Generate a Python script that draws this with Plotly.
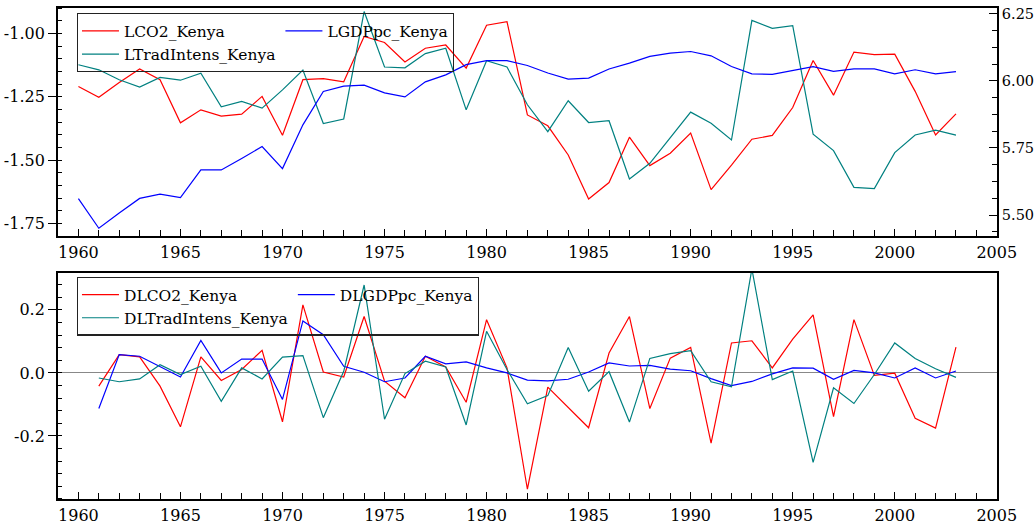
import plotly.graph_objects as go

years = list(range(1960, 2004))
dyears = list(range(1961, 2004))

LCO2 = [-1.210, -1.252, -1.194, -1.141, -1.183, -1.353, -1.302, -1.327, -1.319, -1.249,
        -1.402, -1.183, -1.179, -1.191, -1.012, -1.036, -1.113, -1.059, -1.046, -1.137,
        -0.968, -0.954, -1.322, -1.365, -1.480, -1.654, -1.589, -1.410, -1.522, -1.473,
        -1.394, -1.617, -1.520, -1.418, -1.403, -1.293, -1.107, -1.244, -1.074, -1.084,
        -1.082, -1.229, -1.401, -1.318]
LGDPpc = [5.561, 5.451, 5.508, 5.562, 5.578, 5.565, 5.668, 5.668, 5.711, 5.755,
          5.673, 5.836, 5.960, 5.980, 5.984, 5.955, 5.940, 5.996, 6.022, 6.060,
          6.075, 6.075, 6.057, 6.029, 6.006, 6.010, 6.044, 6.066, 6.091, 6.103,
          6.109, 6.093, 6.053, 6.026, 6.024, 6.039, 6.053, 6.035, 6.044, 6.044,
          6.026, 6.041, 6.026, 6.034]
LTrad = [-1.124, -1.144, -1.183, -1.212, -1.174, -1.185, -1.157, -1.290, -1.269, -1.295,
         -1.223, -1.145, -1.356, -1.338, -0.914, -1.133, -1.136, -1.080, -1.059, -1.302,
         -1.108, -1.133, -1.282, -1.388, -1.266, -1.352, -1.345, -1.575, -1.513, -1.414,
         -1.311, -1.355, -1.421, -0.949, -0.980, -0.970, -1.398, -1.463, -1.608, -1.613,
         -1.471, -1.401, -1.382, -1.402]

DLCO2 = [-0.042, 0.058, 0.051, -0.042, -0.171, 0.051, -0.024, 0.011, 0.072, -0.155,
         0.216, 0.003, -0.013, 0.179, -0.026, -0.079, 0.053, 0.019, -0.093, 0.169,
         0.016, -0.369, -0.045, -0.111, -0.174, 0.063, 0.179, -0.113, 0.047, 0.081,
         -0.223, 0.095, 0.102, 0.016, 0.107, 0.184, -0.139, 0.169, -0.008, -0.001,
         -0.144, -0.175, 0.082]
DLGDPpc = [-0.113, 0.058, 0.053, 0.019, -0.013, 0.103, 0.000, 0.044, 0.044, -0.084,
           0.165, 0.121, 0.021, 0.002, -0.028, -0.016, 0.053, 0.029, 0.035, 0.016,
           0.000, -0.023, -0.025, -0.020, 0.003, 0.032, 0.022, 0.024, 0.012, 0.007,
           -0.018, -0.040, -0.027, -0.003, 0.016, 0.015, -0.020, 0.008, 0.000, -0.016,
           0.016, -0.016, 0.006]
DLTrad = [-0.016, -0.028, -0.019, 0.026, -0.005, 0.021, -0.090, 0.016, -0.019, 0.050,
          0.055, -0.142, 0.005, 0.279, -0.147, -0.002, 0.037, 0.019, -0.165, 0.132,
          0.011, -0.098, -0.072, 0.081, -0.058, 0.004, -0.156, 0.046, 0.061, 0.071,
          -0.028, -0.044, 0.330, -0.021, 0.006, -0.284, -0.047, -0.097, -0.005, 0.095,
          0.046, 0.013, -0.014]

x_ticks = [1960, 1965, 1970, 1975, 1980, 1985, 1990, 1995, 2000, 2005]
y1_ticks = [-1.75, -1.50, -1.25, -1.00]
y1_text = ["-1.75", "-1.50", "-1.25", "-1.00"]
y2_ticks = [5.50, 5.75, 6.00, 6.25]
y2_text = ["5.50", "5.75", "6.00", "6.25"]
y3_ticks = [-0.2, 0.0, 0.2]
y3_text = ["-0.2", "0.0", "0.2"]

RED = "#ff0000"
BLUE = "#0000ff"
TEAL = "#008080"
FONT = "DejaVu Serif"

fig = go.Figure()
lw = 1.2
fig.add_trace(go.Scatter(x=years, y=LCO2, name="LCO2_Kenya", mode="lines",
                         line=dict(color=RED, width=lw), xaxis="x", yaxis="y",
                         legend="legend", legendgroup="a"))
fig.add_trace(go.Scatter(x=years, y=LGDPpc, name="LGDPpc_Kenya", mode="lines",
                         line=dict(color=BLUE, width=lw), xaxis="x", yaxis="y2",
                         legend="legend", legendgroup="b"))
fig.add_trace(go.Scatter(x=years, y=LTrad, name="LTradIntens_Kenya", mode="lines",
                         line=dict(color=TEAL, width=lw), xaxis="x", yaxis="y",
                         legend="legend", legendgroup="a"))
fig.add_trace(go.Scatter(x=dyears, y=DLCO2, name="DLCO2_Kenya", mode="lines",
                         line=dict(color=RED, width=lw), xaxis="x2", yaxis="y3",
                         legend="legend2", legendgroup="c"))
fig.add_trace(go.Scatter(x=dyears, y=DLGDPpc, name="DLGDPpc_Kenya", mode="lines",
                         line=dict(color=BLUE, width=lw), xaxis="x2", yaxis="y3",
                         legend="legend2", legendgroup="d"))
fig.add_trace(go.Scatter(x=dyears, y=DLTrad, name="DLTradIntens_Kenya", mode="lines",
                         line=dict(color=TEAL, width=lw), xaxis="x2", yaxis="y3",
                         legend="legend2", legendgroup="c"))

tickfont = dict(family=FONT, size=16, color="black")
xcommon = dict(range=[1959, 2005.01], tickmode="array", tickvals=x_ticks,
               ticks="inside", ticklen=7, tickwidth=1.3, tickcolor="black",
               minor=dict(tickmode="linear", tick0=1960, dtick=1, ticks="inside",
                          ticklen=6, tickwidth=1.3, tickcolor="black"),
               showline=True, linecolor="black", linewidth=1.8, mirror=True,
               showgrid=False, zeroline=False, tickfont=tickfont, ticklabelstandoff=1,
               automargin=False)

legend_common = dict(xanchor="left", yanchor="top", orientation="h",
                     traceorder="grouped", tracegroupgap=18, itemwidth=37,
                     bgcolor="rgba(0,0,0,0)", bordercolor="#222222", borderwidth=1.3,
                     font=dict(family=FONT, size=15.5, color="black"))

layout = dict(
    width=1036, height=527,
    margin=dict(l=58, r=39, t=8, b=28, autoexpand=False),
    paper_bgcolor="white", plot_bgcolor="white",
    showlegend=True,
    xaxis=dict(anchor="y", domain=[0, 1], **xcommon),
    xaxis2=dict(anchor="y3", domain=[0, 1], **xcommon),
    yaxis=dict(domain=[0.5356, 1], anchor="x", range=[-1.80, -0.90],
               tickmode="array", tickvals=y1_ticks, ticktext=y1_text,
               ticks="outside", ticklen=8, tickwidth=1.3, tickcolor="black",
               minor=dict(tickmode="linear", tick0=-1.75, dtick=0.05, ticks="inside",
                          ticklen=4, tickwidth=1.3, tickcolor="black"),
               showline=True, linecolor="black", linewidth=1.8,
               showgrid=False, zeroline=False, tickfont=tickfont, automargin=False),
    yaxis2=dict(overlaying="y", side="right", anchor="x", range=[5.422, 6.271],
                tickmode="array", tickvals=y2_ticks, ticktext=y2_text,
                ticks="inside", ticklen=8, tickwidth=1.3, tickcolor="black",
                minor=dict(tickmode="linear", tick0=5.5, dtick=0.0625, ticks="inside",
                           ticklen=5, tickwidth=1.3, tickcolor="black"),
                showline=True, linecolor="black", linewidth=1.8,
                showgrid=False, zeroline=False,
                tickfont=dict(family=FONT, size=14.5, color="black"),
                ticklabelstandoff=0, automargin=False),
    yaxis3=dict(domain=[0, 0.4609], anchor="x2", range=[-0.40, 0.318],
                tickmode="array", tickvals=y3_ticks, ticktext=y3_text,
                ticks="outside", ticklen=8, tickwidth=1.3, tickcolor="black",
                minor=dict(tickmode="linear", tick0=0, dtick=0.04, ticks="inside",
                           ticklen=4, tickwidth=1.3, tickcolor="black"),
                showline=True, linecolor="black", linewidth=1.8, mirror=True,
                showgrid=False, zeroline=True, zerolinecolor="#888888", zerolinewidth=1.2,
                tickfont=tickfont, automargin=False),
    legend=dict(x=0.0202, y=0.9898, **legend_common),
    legend2=dict(x=0.0202, y=0.4527, **legend_common),
)
fig.update_layout(**layout)
fig.write_html("out.html")
